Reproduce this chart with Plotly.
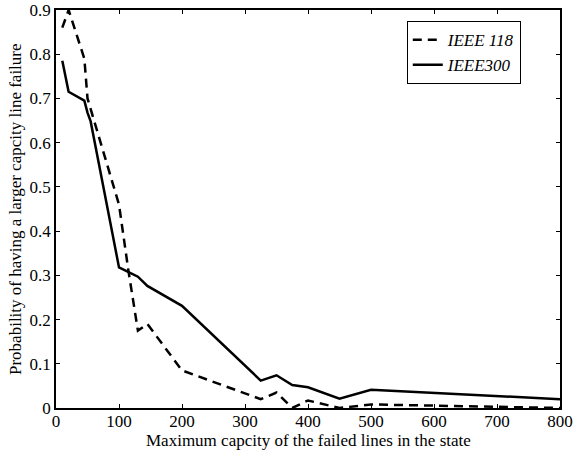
import plotly.graph_objects as go

x118 = [10, 20, 45, 50, 100, 115, 130, 145, 200, 325, 350, 375, 400, 450, 500, 600, 700, 800]
y118 = [0.86, 0.90, 0.79, 0.70, 0.46, 0.31, 0.175, 0.19, 0.085, 0.02, 0.035, 0.0, 0.017, 0.0, 0.008, 0.005, 0.003, 0.0]

x300 = [10, 20, 45, 50, 55, 100, 130, 145, 200, 325, 350, 375, 400, 450, 500, 800]
y300 = [0.785, 0.715, 0.695, 0.668, 0.648, 0.318, 0.297, 0.276, 0.231, 0.062, 0.074, 0.052, 0.047, 0.021, 0.041, 0.02]

xticks = [0, 100, 200, 300, 400, 500, 600, 700, 800]
yticks = [0, 0.1, 0.2, 0.3, 0.4, 0.5, 0.6, 0.7, 0.8, 0.9]
ylabels = ["0", "0.1", "0.2", "0.3", "0.4", "0.5", "0.6", "0.7", "0.8", "0.9"]

xtitle = "Maximum capcity of the failed lines in the state"
ytitle = "Probability of having a larger capcity line failure"

font = "Times New Roman, Liberation Serif, serif"

fig = go.Figure()
fig.add_trace(go.Scatter(x=x118, y=y118, mode="lines", name="<i>IEEE 118</i>",
                         line=dict(color="black", width=2.5, dash="9px,6px")))
fig.add_trace(go.Scatter(x=x300, y=y300, mode="lines", name="<i>IEEE300</i>",
                         line=dict(color="black", width=2.5)))

axis_common = dict(showline=True, linecolor="black", linewidth=1.5, mirror="ticks",
                   ticks="inside", ticklen=4, tickcolor="black", showgrid=False,
                   zeroline=False, automargin=False,
                   tickfont=dict(family=font, size=17, color="black"))

fig.update_layout(
    width=576, height=450,
    margin=dict(l=56, r=16, t=10, b=42),
    plot_bgcolor="white", paper_bgcolor="white",
    font=dict(family=font, size=17, color="black"),
    showlegend=True,
    legend=dict(x=0.696, y=0.972, xanchor="left", yanchor="top",
                bordercolor="black", borderwidth=1, bgcolor="white",
                font=dict(family=font, size=17, color="black")),
    xaxis=dict(range=[0, 800], tickvals=xticks, ticklabelstandoff=-3, **axis_common),
    yaxis=dict(range=[0, 0.9], tickvals=yticks, ticktext=ylabels, **axis_common),
)

fig.add_annotation(text=xtitle, xref="paper", yref="paper", x=0.5, y=0,
                   xanchor="center", yanchor="middle", yshift=-32, showarrow=False,
                   font=dict(family=font, size=17, color="black"))
fig.add_annotation(text=ytitle, xref="paper", yref="paper", x=0, y=0.5,
                   xanchor="center", yanchor="middle", xshift=-41, textangle=-90,
                   showarrow=False, font=dict(family=font, size=17, color="black"))

fig.write_html("out.html")
